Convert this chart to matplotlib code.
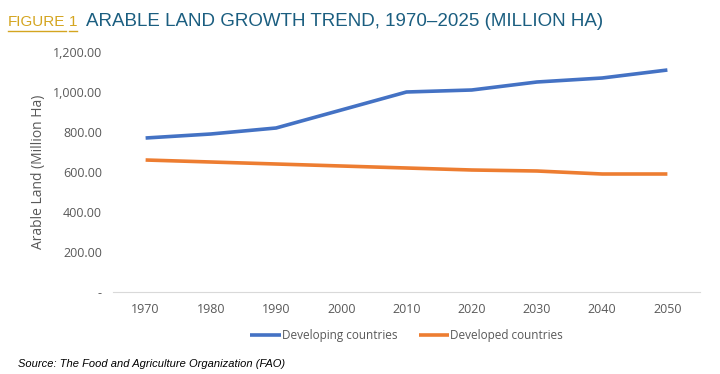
import matplotlib
matplotlib.use("Agg")
import matplotlib.pyplot as plt
from matplotlib.ticker import FuncFormatter

# data
years = ["1970", "1980", "1990", "2000", "2010", "2020", "2030", "2040", "2050"]
developing = [770, 790, 820, 910, 1000, 1010, 1050, 1070, 1110]
developed = [660, 650, 640, 630, 620, 610, 605, 590, 590]

yticks = [0, 200, 400, 600, 800, 1000, 1200]

blue = "#4472c4"
orange = "#ed7d31"
grey = "#595959"
gold = "#d4a520"

fig = plt.figure(figsize=(7.2, 3.74), dpi=100)
ax = fig.add_axes([113 / 720, 1 - 292 / 374, (700 - 113) / 720, 240 / 374])

x = range(len(years))
ax.plot(x, developing, color=blue, lw=2.6, label="Developing countries", solid_capstyle="butt")
ax.plot(x, developed, color=orange, lw=2.6, label="Developed countries", solid_capstyle="butt")

ax.set_xlim(-0.5, len(years) - 0.5)
ax.set_ylim(0, 1200)
ax.set_xticks(list(x))
ax.set_xticklabels(years)
ax.set_yticks(yticks)
ax.yaxis.set_major_formatter(FuncFormatter(lambda v, p: "-" if v == 0 else "{:,.2f}".format(v)))

for s in ["top", "right", "left"]:
    ax.spines[s].set_visible(False)
ax.spines["bottom"].set_color("#d9d9d9")
ax.tick_params(length=0, labelsize=9, colors=grey)
ax.tick_params(axis="x", pad=8)
ax.tick_params(axis="y", pad=8)
for lab in ax.get_xticklabels() + ax.get_yticklabels():
    lab.set_family("Open Sans")

ax.set_ylabel("Arable Land (Million Ha)", color=grey, fontsize=10, family="Open Sans", labelpad=5)

ax.legend(loc="upper center", bbox_to_anchor=(0.5, -0.11), ncol=2, frameon=False,
          prop={"family": "Open Sans", "size": 8.5}, labelcolor=grey,
          handlelength=2.6, handletextpad=0.1, columnspacing=1.8)

# title: "FIGURE 1" in gold (underlined), then the heading
title_font = "Liberation Sans"
ty = 1 - 22 / 374
fig.text(8 / 720, ty, "FIGURE", color=gold, fontsize=11, family=title_font, va="center")
fig.text(69 / 720, ty, "1", color=gold, fontsize=11, family=title_font, va="center")
uy = 1 - 31 / 374
fig.add_artist(plt.Line2D([8 / 720, 66 / 720], [uy, uy], color=gold, lw=1))
fig.add_artist(plt.Line2D([69 / 720, 77 / 720], [uy, uy], color=gold, lw=1))
fig.text(86 / 720, ty, "ARABLE LAND GROWTH TREND, 1970\u20132025 (MILLION HA)",
         color="#1b5e80", fontsize=13.5, family=title_font, va="center")

fig.text(18 / 720, 1 - 364 / 374, "Source: The Food and Agriculture Organization (FAO)",
         fontsize=8, style="italic", family="Liberation Sans", va="center")

fig.savefig("out.png", dpi=100)
